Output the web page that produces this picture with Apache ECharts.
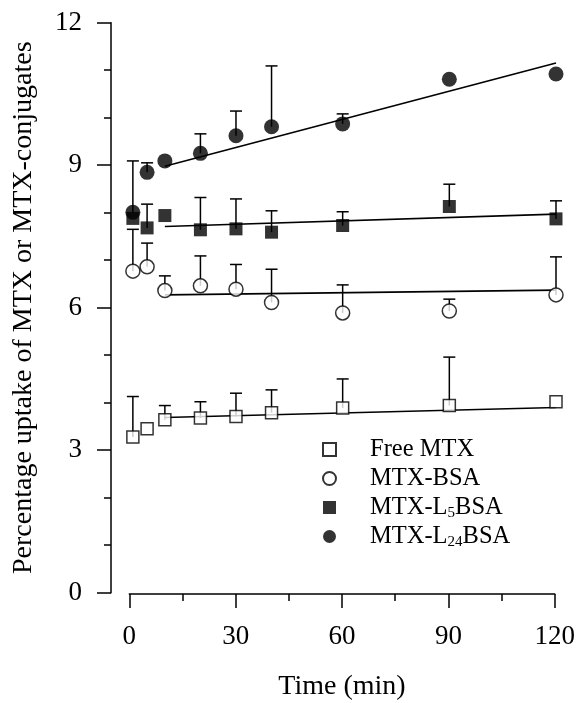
<!DOCTYPE html>
<html>
<head>
<meta charset="utf-8">
<script src="https://cdn.jsdelivr.net/npm/echarts@6/dist/echarts.min.js"></script>
<style>
  html, body { margin: 0; padding: 0; background: #fff; }
  #chart { width: 578px; height: 703px; }
</style>
</head>
<body>
<div id="chart"></div>
<script>
// sampling times (min)
const times = [1, 5, 10, 20, 30, 40, 60, 90, 120];

// mean uptake (%) and top of the error bar (null = no bar visible)
const freeMtx = [3.28, 3.45, 3.64, 3.68, 3.71, 3.79, 3.89, 3.94, 4.02];
const freeMtxTop = [4.13, null, 3.94, 4.02, 4.20, 4.27, 4.50, 4.96, null];
const mtxBsa = [6.77, 6.86, 6.36, 6.46, 6.39, 6.11, 5.89, 5.93, 6.27];
const mtxBsaTop = [7.65, 7.36, 6.67, 7.09, 6.91, 6.81, 6.48, 6.18, 7.07];
const mtxL5 = [7.88, 7.68, 7.94, 7.64, 7.66, 7.59, 7.73, 8.13, 7.87];
const mtxL5Top = [null, 8.18, null, 8.32, 8.29, 8.04, 8.02, 8.60, 8.25];
const mtxL24 = [8.01, 8.85, 9.09, 9.25, 9.62, 9.81, 9.87, 10.81, 10.92];
const mtxL24Top = [9.09, 9.05, null, 9.66, 10.14, 11.09, 10.08, null, null];

// regression lines (from 10 to 120 min)
const fitX = [10, 120];
const fitFree = [3.69, 3.90];
const fitBsa = [6.27, 6.37];
const fitL5 = [7.71, 7.97];
const fitL24 = [8.98, 11.15];

const yTicks = [0, 3, 6, 9, 12];
const xTicks = [0, 30, 60, 90, 120];

const font = "'Liberation Serif', 'Times New Roman', serif";

function pts(ys) {
  return times.map((t, i) => [t, ys[i]]);
}
function errs(ys, tops) {
  const out = [];
  times.forEach((t, i) => {
    if (tops[i] != null) out.push([t, ys[i], tops[i]]);
  });
  return out;
}
function fit(ys) {
  return fitX.map((x, i) => [x, ys[i]]);
}

function errorBar(params, api) {
  const p = api.coord([api.value(0), api.value(1)]);
  const q = api.coord([api.value(0), api.value(2)]);
  const st = { stroke: '#000', lineWidth: 1.5 };
  return {
    type: 'group',
    children: [
      { type: 'line', shape: { x1: p[0], y1: p[1], x2: q[0], y2: q[1] }, style: st },
      { type: 'line', shape: { x1: q[0] - 6, y1: q[1], x2: q[0] + 6, y2: q[1] }, style: st }
    ]
  };
}

const openStyle = { color: '#fff', borderColor: '#000', borderWidth: 1.5 };
const fillStyle = { color: '#000' };

const chart = echarts.init(document.getElementById('chart'));

const series = [];
[
  ['Free MTX', freeMtx, freeMtxTop, fitFree, 'rect', 12, openStyle],
  ['MTX-BSA', mtxBsa, mtxBsaTop, fitBsa, 'circle', 14, openStyle],
  ['MTX-L5BSA', mtxL5, mtxL5Top, fitL5, 'rect', 13, fillStyle],
  ['MTX-L24BSA', mtxL24, mtxL24Top, fitL24, 'circle', 15, fillStyle]
].forEach(([name, ys, tops, line, sym, size, style]) => {
  series.push({
    type: 'custom',
    renderItem: errorBar,
    data: errs(ys, tops),
    encode: { x: 0, y: [1, 2] },
    silent: true,
    z: 2
  });
  series.push({
    type: 'line',
    data: fit(line),
    symbol: 'none',
    lineStyle: { color: '#000', width: 1.6 },
    silent: true,
    z: 3
  });
  series.push({
    name: name,
    type: 'scatter',
    data: pts(ys),
    symbol: sym,
    symbolSize: size,
    itemStyle: style,
    z: 4
  });
});

chart.setOption({
  backgroundColor: '#fff',
  animation: false,
  textStyle: { fontFamily: font, color: '#000' },
  grid: [
    { left: 111, top: 22.7, right: 22, bottom: 110.3 },
    { left: 129.3, top: 593, right: 22, height: 1 }
  ],
  legend: {
    orient: 'vertical',
    left: 317,
    top: 431,
    itemWidth: 13,
    itemHeight: 13,
    itemGap: 2,
    data: ['Free MTX', 'MTX-BSA', 'MTX-L5BSA', 'MTX-L24BSA'],
    formatter: function (name) {
      if (name === 'MTX-L5BSA') return 'MTX-L{s|5}BSA';
      if (name === 'MTX-L24BSA') return 'MTX-L{s|24}BSA';
      return name;
    },
    textStyle: {
      fontFamily: font,
      fontSize: 24.5,
      color: '#000',
      lineHeight: 27,
      padding: [0, 0, 0, 29],
      rich: {
        s: { fontFamily: font, fontSize: 15, color: '#000', lineHeight: 27, padding: [12, 0, 0, 0] }
      }
    }
  },
  xAxis: [
    {
      gridIndex: 0,
      type: 'value',
      min: -5.15,
      max: 120,
      show: false
    },
    {
      gridIndex: 1,
      type: 'value',
      min: 0,
      max: 120,
      interval: 30,
      position: 'bottom',
      name: 'Time (min)',
      nameLocation: 'middle',
      nameGap: 79,
      nameTextStyle: { fontFamily: font, fontSize: 28, color: '#000' },
      axisLine: { show: true, onZero: false, lineStyle: { color: '#000', width: 1.5 } },
      axisTick: { show: true, length: 14, lineStyle: { color: '#000', width: 1.5 } },
      minorTick: { show: true, splitNumber: 2, length: 7, lineStyle: { color: '#000', width: 1.5 } },
      splitLine: { show: false },
      axisLabel: {
        margin: 29,
        fontFamily: font,
        fontSize: 27,
        color: '#000',
        formatter: v => (xTicks.includes(v) ? String(v) : '')
      }
    }
  ],
  yAxis: [
    {
      gridIndex: 0,
      type: 'value',
      min: 0,
      max: 12,
      interval: 3,
      name: 'Percentage uptake of MTX or MTX-conjugates',
      nameLocation: 'middle',
      nameGap: 73,
      nameTextStyle: { fontFamily: font, fontSize: 28, color: '#000' },
      axisLine: { show: true, onZero: false, lineStyle: { color: '#000', width: 1.5 } },
      axisTick: { show: true, length: 14, lineStyle: { color: '#000', width: 1.5 } },
      minorTick: { show: true, splitNumber: 3, length: 7, lineStyle: { color: '#000', width: 1.5 } },
      splitLine: { show: false },
      axisLabel: {
        margin: 29,
        fontFamily: font,
        fontSize: 27,
        color: '#000',
        formatter: v => (yTicks.includes(v) ? String(v) : '')
      }
    },
    {
      gridIndex: 1,
      type: 'value',
      show: false
    }
  ],
  series: series
});
</script>
</body>
</html>
